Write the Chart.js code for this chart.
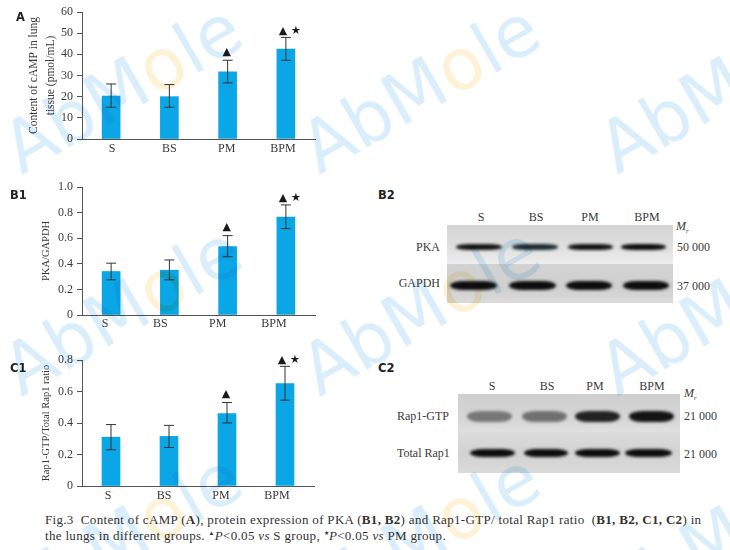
<!DOCTYPE html>
<html>
<head>
<meta charset="utf-8">
<title>Fig.3</title>
<script src="https://cdn.jsdelivr.net/npm/chart.js@4"></script>
<style>
    html, body { margin: 0; padding: 0; background: #fff; }
    #page { position: relative; width: 730px; height: 550px; overflow: hidden; font-family: "Liberation Serif", serif; color: #3a3a3a; }
    canvas { position: absolute; left: 0; }
    .txt { position: absolute; white-space: nowrap; font-size: 12px; line-height: 14px; }
    .txt sub { font-size: 7px; line-height: 0; }
    .panel { position: absolute; font: bold 11.5px "DejaVu Sans", sans-serif; color: #222; line-height: 14px; }
    .blot { position: absolute; overflow: hidden; }
    .band { position: absolute; border-radius: 30% / 50%; filter: blur(1.4px); }
    .mark { position: absolute; font: 71px/80px "DejaVu Sans", sans-serif; color: #d9eefa; transform-origin: 0 62px; transform: rotate(-30deg); white-space: nowrap; mix-blend-mode: multiply; pointer-events: none; z-index: 5; }
    .mark span { color: #fdf2d6; }
    #caption { position: absolute; left: 45px; top: 512px; font: 13px/16px "Liberation Serif", serif; letter-spacing: 0.32px; color: #333; white-space: nowrap; }
    #caption sup { font-size: 6px; line-height: 0; }
</style>
</head>
<body>
<div id="page">
    <canvas id="chartA" width="365" height="175" style="top:0"></canvas>
    <canvas id="chartB1" width="365" height="165" style="top:175px"></canvas>
    <canvas id="chartC1" width="365" height="170" style="top:340px"></canvas>
    <div class="panel" style="left:16px;top:10px">A</div>
    <div class="panel" style="left:10px;top:188px">B1</div>
    <div class="panel" style="left:10px;top:361px">C1</div>
    <div class="panel" style="left:378px;top:188px">B2</div>
    <div class="panel" style="left:378px;top:361px">C2</div>
    <div id="caption">Fig.3&nbsp; Content of cAMP (<b>A</b>), protein expression of PKA (<b>B1, B2</b>) and Rap1-GTP/ total Rap1 ratio&nbsp; (<b>B1, B2, C1, C2</b>) in<br>the lungs in different groups. <sup>▲</sup><i>P</i>&lt;0.05 <i>vs</i> S group, <sup>★</sup><i>P</i>&lt;0.05 <i>vs</i> PM group.</div>
</div>

<script>
const groups = ['S', 'BS', 'PM', 'BPM'];

const valuesA = [20.3, 20, 31.7, 42.5];
const errLowA = [15, 15, 26.5, 37.2];
const errHighA = [26, 25.7, 37.2, 48];
const ticksA = ['0', '10', '20', '30', '40', '50', '60'];

const valuesB1 = [0.34, 0.35, 0.535, 0.765];
const errLowB1 = [0.275, 0.275, 0.455, 0.675];
const errHighB1 = [0.405, 0.43, 0.62, 0.86];
const ticksB1 = ['0', '0.2', '0.4', '0.6', '0.8', '1.0'];

const valuesC1 = [0.31, 0.315, 0.46, 0.65];
const errLowC1 = [0.23, 0.245, 0.4, 0.545];
const errHighC1 = [0.39, 0.385, 0.53, 0.76];
const ticksC1 = ['0', '0.2', '0.4', '0.6', '0.8'];

// significance marks, same for all three bar charts
const triangles = [false, false, true, true];
const stars = [false, false, false, true];

const barColor = '#0ba6e6';
const axisColor = '#555';

// error bars, marks and the x labels (they sit off-centre in the original)
const extrasPlugin = {
    id: 'extras',
    afterDatasetsDraw(chart, args, opts) {
        const { ctx, scales: { x, y } } = chart;
        ctx.save();
        opts.low.forEach((low, i) => {
            const cx = x.getPixelForValue(i);
            const top = y.getPixelForValue(opts.high[i]);
            const bottom = y.getPixelForValue(low);
            ctx.strokeStyle = '#333';
            ctx.lineWidth = 1;
            ctx.beginPath();
            ctx.moveTo(cx, top); ctx.lineTo(cx, bottom);
            ctx.moveTo(cx - 5, top); ctx.lineTo(cx + 5, top);
            ctx.moveTo(cx - 5, bottom); ctx.lineTo(cx + 5, bottom);
            ctx.stroke();

            ctx.fillStyle = '#1a1a1a';
            ctx.textAlign = 'center';
            ctx.textBaseline = 'middle';
            if (triangles[i]) {
                ctx.font = '11px "DejaVu Sans"';
                ctx.fillText('▲', stars[i] ? cx - 3 : cx - 1, top - (stars[i] ? 6.5 : 8));
            }
            if (stars[i]) {
                ctx.font = '11.5px "DejaVu Sans"';
                ctx.fillText('★', cx + 10, top - 6.5);
            }

            ctx.fillStyle = '#3a3a3a';
            ctx.font = '12px "Liberation Serif"';
            ctx.fillText(groups[i], cx + opts.labelShift[i], y.bottom + opts.labelGap);
        });
        ctx.restore();
    }
};

function makeChart(id, cfg) {
    return new Chart(document.getElementById(id), {
        type: 'bar',
        plugins: [extrasPlugin],
        data: {
            labels: groups,
            datasets: [{ data: cfg.values, backgroundColor: barColor, barThickness: 18 }]
        },
        options: {
            responsive: false,
            animation: false,
            layout: { padding: { top: cfg.top, right: cfg.right, left: 0, bottom: 0 } },
            plugins: {
                legend: { display: false },
                tooltip: { enabled: false },
                extras: { low: cfg.low, high: cfg.high, labelShift: cfg.labelShift, labelGap: cfg.labelGap }
            },
            scales: {
                x: {
                    afterFit: s => { s.height = cfg.bottom; },
                    grid: { display: false },
                    border: { color: axisColor, width: 1 },
                    ticks: { display: false }
                },
                y: {
                    min: 0,
                    max: cfg.max,
                    afterFit: s => { s.width = 82; },
                    grid: { drawOnChartArea: false, tickLength: 5, color: axisColor },
                    border: { color: axisColor, width: 1 },
                    ticks: {
                        stepSize: cfg.step,
                        padding: 4,
                        color: '#3a3a3a',
                        font: { family: 'Liberation Serif', size: 12 },
                        callback: (v, i) => cfg.ticks[i]
                    },
                    title: {
                        display: true,
                        text: cfg.title,
                        color: '#3a3a3a',
                        font: { family: 'Liberation Serif', size: cfg.titleSize, lineHeight: 1.45 },
                        padding: { top: cfg.titleTop, bottom: 0 }
                    }
                }
            }
        }
    });
}

makeChart('chartA', {
    values: valuesA, low: errLowA, high: errHighA, ticks: ticksA,
    max: 60, step: 10, top: 12, bottom: 36, right: 50,
    labelShift: [1, 0, -1, -3], labelGap: 10, titleTop: 26, titleSize: 11.5,
    title: ['Content of cAMP in lung', 'tissue (pmol/mL)']
});
makeChart('chartB1', {
    values: valuesB1, low: errLowB1, high: errHighB1, ticks: ticksB1,
    max: 1, step: 0.2, top: 12, bottom: 25, right: 50,
    labelShift: [-6, -9, -10, -12], labelGap: 9, titleTop: 39, titleSize: 10.5,
    title: 'PKA/GAPDH'
});
makeChart('chartC1', {
    values: valuesC1, low: errLowC1, high: errHighC1, ticks: ticksC1,
    max: 0.8, step: 0.2, top: 20, bottom: 24, right: 51,
    labelShift: [-3, -5, -6, -8], labelGap: 10, titleTop: 39, titleSize: 10.5,
    title: 'Rap1-GTP/Total Rap1 ratio'
});

// the western blots are photographs, so they are just blurred page elements
const page = document.getElementById('page');

function addText(text, left, centerY, opts = {}) {
    const el = document.createElement('div');
    el.className = 'txt';
    el.innerHTML = text;
    el.style.top = (centerY - 7) + 'px';
    if (opts.right !== undefined) el.style.right = (730 - opts.right) + 'px';
    else if (opts.center) { el.style.left = left + 'px'; el.style.transform = 'translateX(-50%)'; }
    else el.style.left = left + 'px';
    if (opts.italic) el.style.fontStyle = 'italic';
    page.appendChild(el);
}

function addBlotRow(left, top, width, height, background, bands, bandY, bandH) {
    const row = document.createElement('div');
    row.className = 'blot';
    row.style.cssText = `left:${left}px;top:${top}px;width:${width}px;height:${height}px;background:${background}`;
    bands.forEach(([x1, x2, shade]) => {
        const b = document.createElement('div');
        b.className = 'band';
        b.style.cssText = `left:${x1 - left}px;width:${x2 - x1}px;top:${bandY - top - bandH / 2}px;height:${bandH}px;background:${shade}`;
        row.appendChild(b);
    });
    page.appendChild(row);
}

// B2
addBlotRow(447, 225, 226, 39, 'linear-gradient(#d4d4d4,#e0e0e0 60%,#eeeeee)', [
    [456, 502, '#141414'], [512, 558, '#1c2a30'], [568, 613, '#111'], [621, 666, '#0c0c0c']
], 247, 5.5);
addBlotRow(447, 264, 226, 39, 'linear-gradient(#d2d2d2,#d0d0d0 60%,#dadada)', [
    [450, 497, '#0d0d0d'], [509, 556, '#0d0d0d'], [566, 612, '#0d0d0d'], [623, 669, '#0d0d0d']
], 285, 9);
groups.forEach((g, i) => addText(g, [481, 536, 590, 647][i], 217, { center: true }));
addText('M<sub>r</sub>', 676, 226, { italic: true });
addText('PKA', 0, 247, { right: 440 });
addText('GAPDH', 0, 283, { right: 440 });
addText('50 000', 677, 247);
addText('37 000', 677, 286);

// C2
addBlotRow(458, 394, 222, 38, 'linear-gradient(#cfcfcf,#d6d6d6 70%,#e0e0e0)', [
    [467, 512, '#777'], [522, 567, '#707070'], [575, 620, '#222'], [629, 674, '#141414']
], 416, 11);
addBlotRow(458, 432, 222, 41, 'linear-gradient(#dcdcdc,#d2d2d2 50%,#dadada)', [
    [470, 515, '#0c0c0c'], [524, 568, '#0c0c0c'], [575, 620, '#0c0c0c'], [625, 672, '#0c0c0c']
], 453, 8);
groups.forEach((g, i) => addText(g, [492, 547, 595, 652][i], 386, { center: true }));
addText('M<sub>r</sub>', 684, 393, { italic: true });
addText('Rap1-GTP', 397, 416);
addText('Total Rap1', 397, 453);
addText('21 000', 684, 416);
addText('21 000', 684, 454);

// watermark
[0, 222, 449].forEach(dy => {
    [0, 298, 596].forEach(dx => {
        const m = document.createElement('div');
        m.className = 'mark';
        m.innerHTML = 'AbM<span>o</span>le';
        m.style.left = (20 + dx) + 'px';
        m.style.top = (173 - 62 + dy) + 'px';
        page.appendChild(m);
    });
});
</script>
</body>
</html>
